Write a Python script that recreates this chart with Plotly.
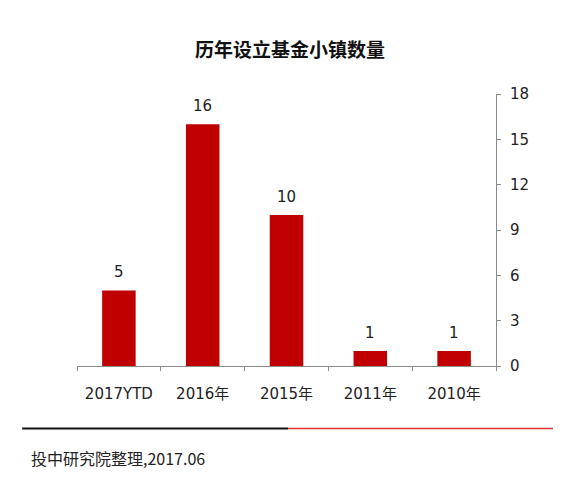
import plotly.graph_objects as go

# data (chart is drawn mirrored: newest year on the left, axis on the right)
categories = ["2017YTD", "2016年", "2015年", "2011年", "2010年"]
town_counts = [5, 16, 10, 1, 1]
y_ticks = [0, 3, 6, 9, 12, 15, 18]

title_text = "<b>历年设立基金小镇数量</b>"
source_text = "投中研究院整理,2017.06"

cjk_font = "Noto Sans CJK SC, sans-serif"
num_font = "DejaVu Sans, Noto Sans CJK SC, sans-serif"
bar_red = "#C00000"
axis_grey = "#8c8c8c"

fig = go.Figure()
fig.add_trace(go.Bar(
    x=categories,
    y=town_counts,
    marker=dict(color=bar_red, line=dict(width=0)),
    hoverinfo="x+y",
))

# value labels sit a bit higher above the bars than plotly's own outside text
for cat, val in zip(categories, town_counts):
    fig.add_annotation(x=cat, y=val, text=str(val), showarrow=False,
                       yanchor="middle", yshift=18,
                       font=dict(family=num_font, size=15, color="#222222"))

# the page gets an 8px body margin, so margins are shifted to compensate
fig.update_layout(
    width=565,
    height=494,
    margin=dict(l=69, r=77, t=86, b=136),
    paper_bgcolor="white",
    plot_bgcolor="white",
    font=dict(family=num_font, color="#333333"),
    showlegend=False,
    bargap=0.6,
    title=dict(text=title_text, x=282 / 565, xanchor="center", y=1 - 42 / 494,
               yanchor="middle", font=dict(family=cjk_font, size=19, color="#111111")),
)

fig.update_xaxes(
    categoryorder="array",
    categoryarray=categories,
    showline=True,
    linecolor=axis_grey,
    linewidth=1,
    ticks="outside",
    tickson="boundaries",
    ticklen=4,
    tickcolor=axis_grey,
    ticklabelstandoff=14,
    tickfont=dict(size=15, color="#222222"),
    showgrid=False,
)

fig.update_yaxes(
    side="right",
    range=[0, 18],
    tickvals=y_ticks,
    showline=True,
    linecolor=axis_grey,
    linewidth=1,
    ticks="outside",
    ticklen=4,
    tickcolor=axis_grey,
    ticklabelstandoff=6,
    tickfont=dict(size=15, color="#222222"),
    showgrid=False,
    zeroline=False,
)

# separator under the chart: black half then red half
fig.add_shape(type="line", xref="paper", yref="paper",
              x0=-0.131, x1=0.5036, y0=-0.230, y1=-0.230,
              line=dict(color="#111111", width=2))
fig.add_shape(type="line", xref="paper", yref="paper",
              x0=0.5036, x1=1.136, y0=-0.230, y1=-0.230,
              line=dict(color="#e03030", width=1.5))

fig.add_annotation(text=source_text, xref="paper", yref="paper",
                   x=-0.1146, y=-0.338, xanchor="left", yanchor="middle",
                   showarrow=False, font=dict(family=cjk_font, size=16, color="#222222"))

fig.write_html("out.html")
